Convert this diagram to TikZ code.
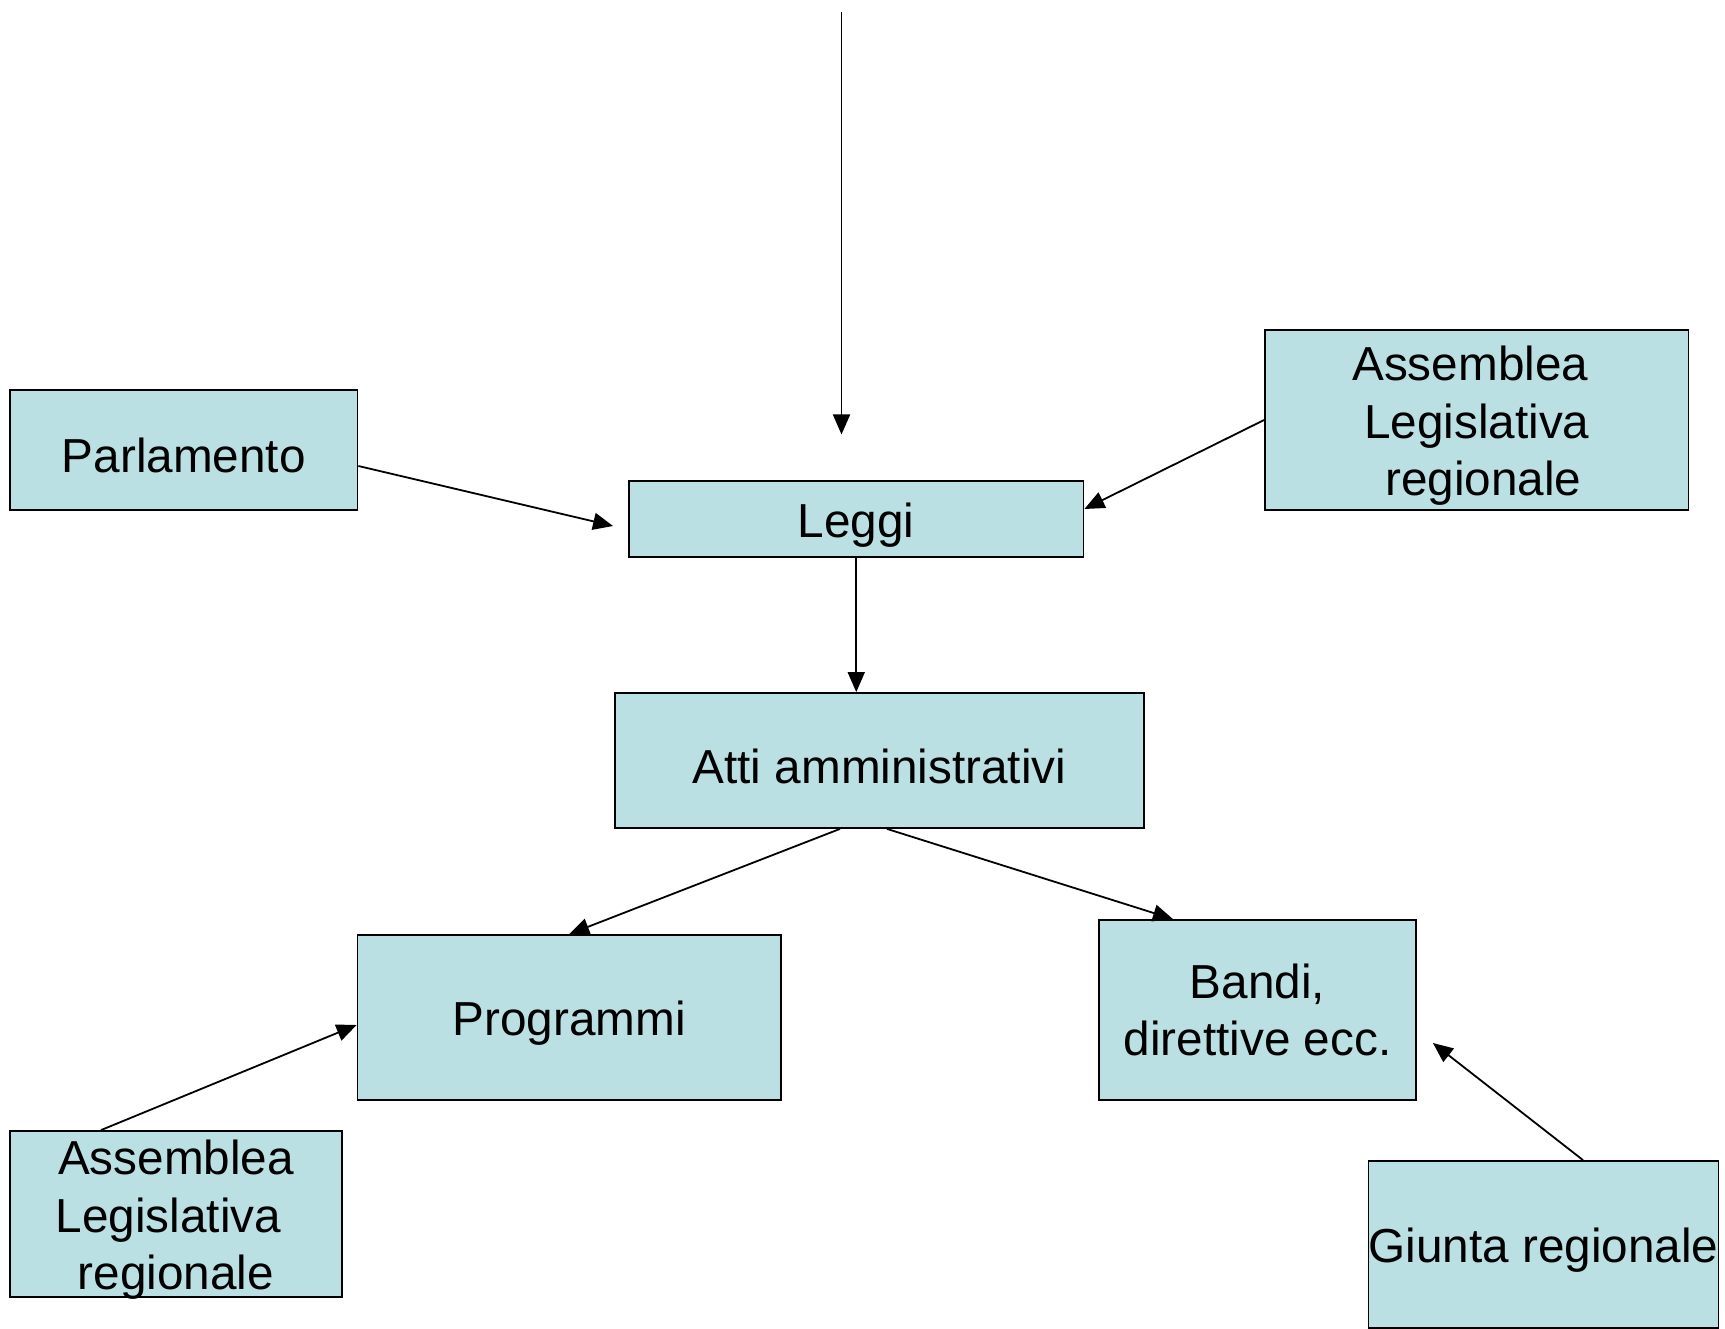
\documentclass[tikz,border=0pt]{standalone}
\usepackage{fontspec}
\setmainfont{Liberation Sans}
\usetikzlibrary{arrows.meta,calc}
\definecolor{boxfill}{HTML}{BBE0E3}
\newcommand{\firststrut}{\rule{0pt}{46pt}}
\begin{document}
\begin{tikzpicture}[x=1pt,y=-1pt,
  box/.style={draw=black,line width=1.8pt,fill=boxfill,inner sep=0pt,align=center,
    font=\fontsize{47.7}{57.5}\selectfont},
  conn/.style={line width=1.8pt,-{Triangle[length=20pt,width=17pt]}}]
\useasboundingbox (0,0) rectangle (1725,1329);
\node[box,minimum width=347.5pt,minimum height=120pt] (parl) at (183.75,450) {\firststrut Parlamento};
\node[box,minimum width=454.5pt,minimum height=76pt] (leggi) at (856.25,519) {\firststrut Leggi};
\node[box,minimum width=423.5pt,minimum height=180pt] (asmtr) at (1476.75,420) {\firststrut Assemblea\rule{13pt}{0pt}\\Legislativa\\\rule{13pt}{0pt}regionale};
\node[box,minimum width=529pt,minimum height=135pt] (atti) at (879.5,760.5) {\firststrut Atti amministrativi};
\node[box,minimum width=423.5pt,minimum height=165pt] (prog) at (569.25,1017.5) {\firststrut Programmi};
\node[box,minimum width=317pt,minimum height=180pt] (bandi) at (1257.5,1010) {Bandi,\\direttive ecc.};
\node[box,minimum width=332pt,minimum height=166pt,inner ysep=-4pt] (asmbl) at (176,1214) {\firststrut Assemblea\\Legislativa\rule{15pt}{0pt}\\regionale};
\node[box,minimum width=347pt,minimum height=167pt] (giunta) at (1543.5,1244.5) {\firststrut Giunta regionale};
\coordinate (topstart) at (841.5,12);
\coordinate (toptip) at (841.5,434.5);
\draw[conn] (topstart) -- (toptip);
\draw[conn] ([yshift=-16pt]parl.east) -- ([xshift=-15pt,yshift=-7pt]leggi.west);
\draw[conn] (asmtr.west) -- ([yshift=10pt]leggi.east);
\draw[conn] (leggi.south) -- (leggi.south |- atti.north);
\draw[conn] ([xshift=-39.5pt]atti.south) -- (prog.north);
\draw[conn] ([xshift=7.5pt]atti.south) -- ([xshift=-84.5pt]bandi.north);
\draw[conn] ([xshift=-75pt]asmbl.north) -- ([yshift=-7.5pt]prog.west);
\draw[conn] ([xshift=39.5pt]giunta.north) -- ([xshift=16pt,yshift=-33pt]bandi.east);
\end{tikzpicture}
\end{document}
